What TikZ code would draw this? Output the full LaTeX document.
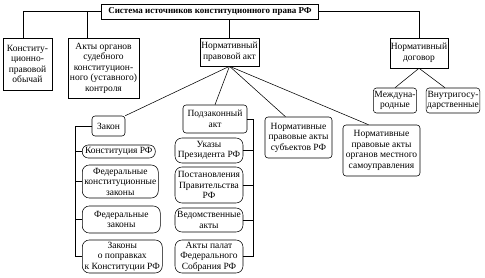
\documentclass[tikz,border=0pt]{standalone}
\usepackage{fontspec}
\setmainfont{Liberation Serif}
\usetikzlibrary{calc}

\tikzset{
  box/.style={draw, rectangle, align=center, inner sep=1pt},
  rbox/.style={box, rounded corners=3pt},
  oval/.style={box, rounded corners=7pt},
}

\begin{document}
\begin{tikzpicture}[x=1pt, y=-1pt, font=\fontsize{9.5}{10.5}\selectfont, line width=0.55pt]
  \useasboundingbox (0,0) rectangle (485,278);
  % top level
  \node[box, minimum width=217pt, minimum height=15pt, font=\fontsize{9}{10.5}\selectfont\bfseries] (title) at (210,11.5) {Система источников конституционного права РФ};
  \node[box, minimum width=49pt, minimum height=52pt] (obychai) at (27.5,64) {Конститу-\\ционно-\\правовой\\обычай};
  \node[box, minimum width=71pt, minimum height=60pt] (akty) at (103.5,68) {Акты органов\\судебного\\конституцион-\\ного (уставного)\\контроля};
  \node[box, minimum width=59pt, minimum height=28pt] (npa) at (229.5,52) {Нормативный\\правовой акт};
  \node[box, minimum width=58pt, minimum height=30pt] (dogovor) at (419,53) {Нормативный\\договор};
  % treaties
  \node[rbox, minimum width=40pt, minimum height=25pt] (mezhd) at (395,100.5) {Междуна-\\родные};
  \node[rbox, minimum width=50pt, minimum height=25pt] (vnutr) at (453,100.5) {Внутригосу-\\дарственные};
  % normative acts
  \node[rbox, minimum width=33pt, minimum height=20pt] (zakon) at (108.5,126) {Закон};
  \node[rbox, minimum width=64pt, minimum height=28pt] (podzak) at (215,119) {Подзаконный\\акт};
  \node[rbox, minimum width=67pt, minimum height=41pt] (subj) at (298.5,137.5) {Нормативные\\правовые акты\\субъектов РФ};
  \node[rbox, minimum width=77pt, minimum height=51pt] (mestn) at (381.5,150.5) {Нормативные\\правовые акты\\органов местного\\самоуправления};
  % laws
  \node[oval, rounded corners=6pt, minimum width=73pt, minimum height=13pt, anchor=west] (konst) at (82,151.5) {Конституция РФ};
  \node[oval, minimum width=76pt, minimum height=33pt, anchor=west] (fkz) at (82,181.5) {Федеральные\\конституционные\\законы};
  \node[oval, minimum width=78pt, minimum height=27pt, anchor=west] (fz) at (82,219.5) {Федеральные\\законы};
  \node[oval, minimum width=80pt, minimum height=33pt, anchor=west] (popr) at (82,256.5) {Законы\\о поправках\\к Конституции РФ};
  % by-laws
  \node[oval, minimum width=68pt, minimum height=25pt] (ukazy) at (209,150.5) {Указы\\Президента РФ};
  \node[oval, minimum width=68pt, minimum height=36pt] (postan) at (209,185) {Постановления\\Правительства\\РФ};
  \node[oval, minimum width=68pt, minimum height=24pt] (vedom) at (209,220) {Ведомственные\\акты};
  \node[oval, minimum width=68pt, minimum height=33pt] (palaty) at (209,256.5) {Акты палат\\Федерального\\Собрания РФ};

  \coordinate (lb) at (75,0);
  \coordinate (rb) at (253,0);

  % connectors
  \draw (title.west) -| ($(obychai.north)+(-4.5,0)$);
  \draw ($(akty.north)+(-16.5,0)$) |- (title.west);
  \draw (title.south -| npa.north) -- (npa.north);
  \draw (title.east) -| (dogovor.north);
  \draw (dogovor.south) -- (mezhd.north);
  \draw (dogovor.south) -- ($(vnutr.north)+(-8,0)$);
  \draw (npa.south) -- (zakon.north east);
  \draw (npa.south) -- (podzak.north);
  \draw (npa.south) -- ($(subj.north)+(-13,0)$);
  \draw (npa.south) -- ($(mestn.north)+(-13,0)$);
  \draw (zakon.west) -- (zakon.west -| lb) |- (popr.west);
  \foreach \n in {konst,fkz,fz}
    \draw (\n.west) -- (\n.west -| lb);
  \draw (podzak.east) -- (podzak.east -| rb) |- (palaty.east);
  \foreach \n in {ukazy,postan,vedom}
    \draw (\n.east) -- (\n.east -| rb);
\end{tikzpicture}
\end{document}
